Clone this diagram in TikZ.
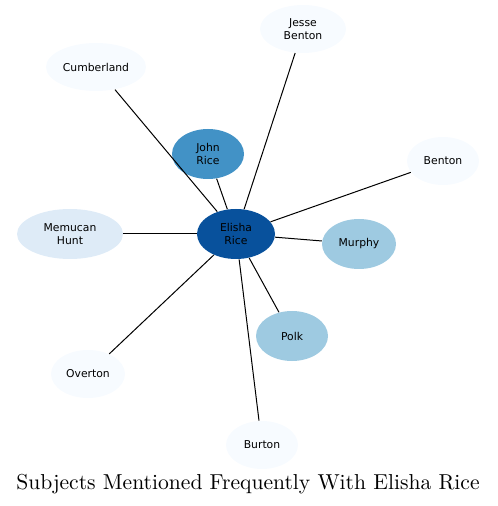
\documentclass[tikz,border=0pt]{standalone}
\usepackage{fontspec}
\usepackage{xcolor}
\usepackage{tikz}
\usetikzlibrary{shapes.geometric}
\newfontfamily\nodefont{DejaVu Sans}
\definecolor{blueA}{HTML}{08519C}
\definecolor{blueB}{HTML}{4292C6}
\definecolor{blueC}{HTML}{9ECAE1}
\definecolor{blueD}{HTML}{DEEBF7}
\definecolor{blueE}{HTML}{F7FBFF}
\begin{document}
\begin{tikzpicture}[x=0.5pt, y=-0.5pt,
    subj/.style={ellipse, inner sep=0pt, align=center,
        font=\nodefont\fontsize{5.4}{6.2}\selectfont},
    link/.style={line width=0.5pt}]
    \useasboundingbox (0,0) rectangle (497,506);
    \node[subj, fill=blueA, minimum width=39pt, minimum height=25pt] (elisha) at (236,234) {Elisha\\Rice};
    \node[subj, fill=blueB, minimum width=36pt, minimum height=25pt] (john) at (208,154) {John\\Rice};
    \node[subj, fill=blueE, minimum width=43pt, minimum height=24pt] (jesse) at (303,29) {Jesse\\Benton};
    \node[subj, fill=blueE, minimum width=50pt, minimum height=24pt] (cumb) at (96,67) {Cumberland};
    \node[subj, fill=blueE, minimum width=36pt, minimum height=24pt] (benton) at (443,161) {Benton};
    \node[subj, fill=blueD, minimum width=53pt, minimum height=25pt] (hunt) at (70,234) {Memucan\\Hunt};
    \node[subj, fill=blueC, minimum width=37pt, minimum height=25pt] (murphy) at (359,244) {Murphy};
    \node[subj, fill=blueC, minimum width=36pt, minimum height=25pt] (polk) at (292,336) {Polk};
    \node[subj, fill=blueE, minimum width=37pt, minimum height=24pt] (overton) at (88,374) {Overton};
    \node[subj, fill=blueE, minimum width=36pt, minimum height=24pt] (burton) at (262,445) {Burton};
    \node[font=\fontsize{10.8}{13}\selectfont] (title) at (248,484) {Subjects Mentioned Frequently With Elisha Rice};
    \foreach \other in {john, jesse, cumb, benton, hunt, murphy, polk, overton, burton}
        \draw[link] (elisha) -- (\other);
\end{tikzpicture}
\end{document}
